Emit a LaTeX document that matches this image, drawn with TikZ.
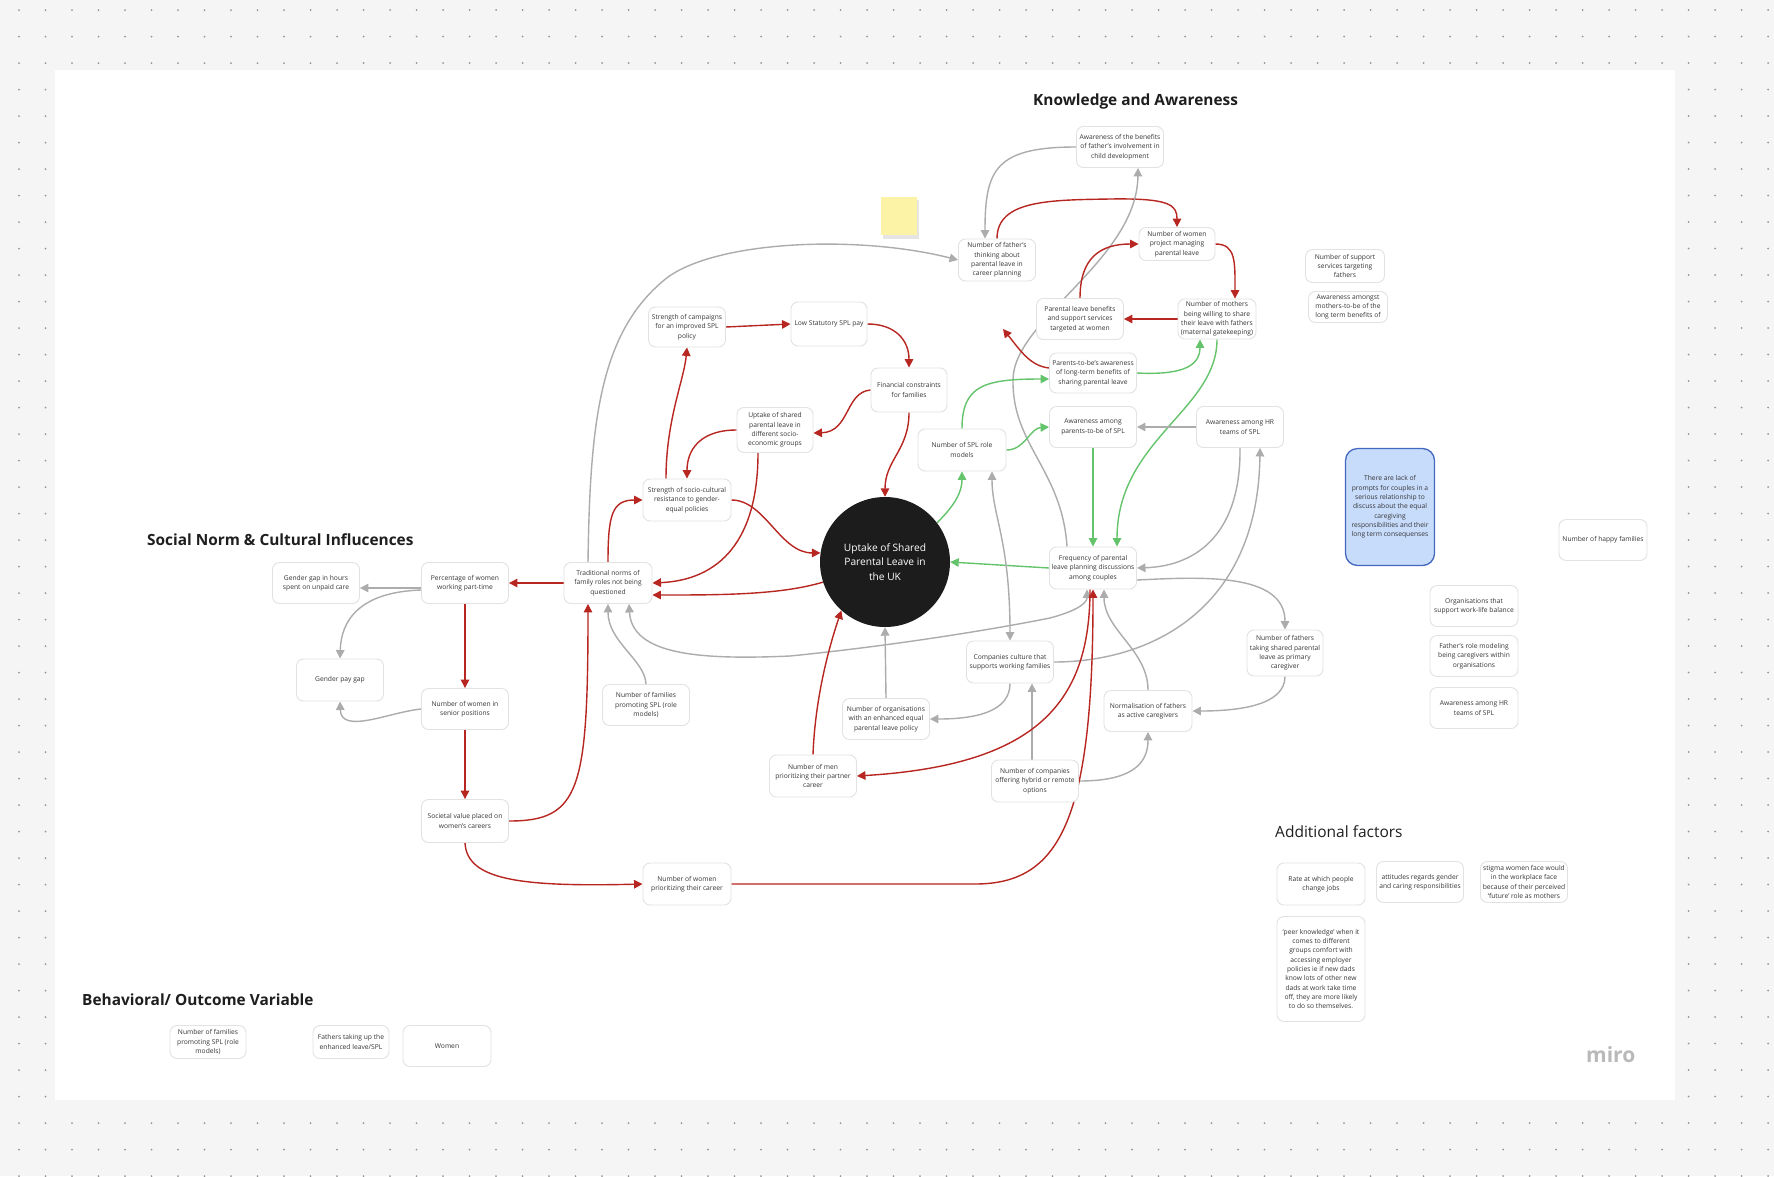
\documentclass[tikz,border=0pt]{standalone}
\usepackage{fontspec}
\setmainfont{Open Sans}
\usetikzlibrary{arrows.meta,calc}
\pgfdeclarelayer{bglayer}
\pgfdeclarelayer{edgelayer}
\pgfsetlayers{bglayer,edgelayer,main}
\definecolor{redc}{RGB}{183,38,32}
\definecolor{grayc}{RGB}{172,172,172}
\definecolor{greenc}{RGB}{100,196,108}
\definecolor{boxc}{RGB}{226,226,226}
\definecolor{textc}{RGB}{55,55,55}
\definecolor{circc}{RGB}{28,28,28}
\definecolor{bgc}{RGB}{245,245,245}
\definecolor{dotc}{RGB}{150,150,150}
\definecolor{bluefill}{RGB}{199,219,251}
\definecolor{blueline}{RGB}{68,104,192}
\definecolor{stickyc}{RGB}{253,243,167}
\definecolor{headc}{RGB}{30,30,30}
\definecolor{miroc}{RGB}{185,185,185}
\begin{document}
\begin{tikzpicture}[x=1pt,y=-1pt,
  >={Triangle[length=8.5pt,width=8.5pt]},
  box/.style={draw=boxc, line width=0.9pt, rounded corners=7pt, fill=white, align=center,
    inner sep=0pt, text=textc, font=\fontsize{6.7}{9.3}\selectfont,
    minimum width=87pt, minimum height=41pt},
  head/.style={font=\fontsize{15.4}{18}\selectfont\bfseries, text=headc, inner sep=0pt, anchor=base west},
  rl/.style={draw=redc, line width=1.4pt, ->},
  gl/.style={draw=grayc, line width=1.4pt, ->},
  nl/.style={draw=greenc, line width=1.4pt, ->}]
\useasboundingbox (0,0) rectangle (1774,1176);
\begin{pgfonlayer}{bglayer}
\fill[bgc] (0,0) rectangle (1774,1176);
\foreach \i in {0,...,66} {\foreach \j in {0,...,44} {\fill[dotc] ({19+26.5*\i},{10+26.5*\j}) circle[radius=1pt];}}
\fill[white] (55,70) rectangle (1675,1100);
\fill[black!10] (883,200) rectangle (919,239);
\end{pgfonlayer}

% headings
\node[head] (hK) at (1033,105) {Knowledge and Awareness};
\node[head] (hS) at (147,545) {Social Norm \& Cultural Influcences};
\node[head] (hB) at (82,1005) {Behavioral/ Outcome Variable};
\node[font=\fontsize{15.5}{18}\selectfont, text=headc, inner sep=0pt, anchor=base west] (hA) at (1275,837) {Additional factors};
\node[font=\fontsize{21}{24}\selectfont\bfseries, text=miroc, inner sep=0pt, anchor=base west] (miro) at (1586,1062) {miro};

% sticky note
\node[fill=stickyc, minimum width=36pt, minimum height=38pt, inner sep=0pt] (note) at (899,216) {};

% knowledge nodes
\node[box] (AwBen) at (1120,147) {Awareness of the benefits\\of father's involvement in\\child development};
\node[box, minimum width=77pt, minimum height=42pt] (FathThink) at (997,260) {Number of father's\\thinking about\\parental leave in\\career planning};
\node[box, minimum width=76pt, minimum height=33pt] (WomenPM) at (1177,244) {Number of women\\project managing\\parental leave};
\node[box, minimum width=78pt, minimum height=40pt] (MothWill) at (1217,319) {Number of mothers\\being willing to share\\their leave with fathers\\(maternal gatekeeping)};
\node[box] (PLBen) at (1080,319) {Parental leave benefits\\and support services\\targeted at women};
\node[box, minimum height=40pt] (PtbAw) at (1093,373) {Parents-to-be's awareness\\of long-term benefits of\\sharing parental leave};
\node[box, minimum width=79pt, minimum height=33pt] (SupFath) at (1345,266) {Number of support\\services targeting\\fathers};
\node[box, minimum width=79pt, minimum height=31pt] (AwMoth) at (1348,307) {Awareness amongst\\mothers-to-be of the\\long term benefits of};

% centre nodes
\node[box, minimum width=77pt, minimum height=40pt] (SCamp) at (687,327) {Strength of campaigns\\for an improved SPL\\policy};
\node[box, minimum width=76pt, minimum height=44pt] (LowPay) at (829,324) {Low Statutory SPL pay};
\node[box, minimum width=76pt, minimum height=44pt] (Fin) at (909,390) {Financial constraints\\for families};
\node[box, minimum width=76pt, minimum height=45pt] (UpSoc) at (775,430) {Uptake of shared\\parental leave in\\different socio-\\economic groups};
\node[box, minimum width=88pt, minimum height=42pt] (SPLRM) at (962,450) {Number of SPL role\\models};
\node[box, minimum width=88pt, minimum height=42pt] (SSC) at (687,500) {Strength of socio-cultural\\resistance to gender-\\equal policies};
\node[box] (AwPtb) at (1093,427) {Awareness among\\parents-to-be of SPL};
\node[box] (AwHR) at (1240,427) {Awareness among HR\\teams of SPL};
\node[box, minimum height=42pt] (Freq) at (1093,568) {Frequency of parental\\leave planning discussions\\among couples};
\node[circle, fill=circc, minimum size=130pt, inner sep=0pt, text=white, align=center,
  font=\fontsize{10.2}{14.5}\selectfont] (Circle) at (885,562) {Uptake of Shared\\Parental Leave in\\the UK};
\node[box, minimum width=88pt] (Trad) at (608,583) {Traditional norms of\\family roles not being\\questioned};
\node[box] (NumFam) at (646,705) {Number of families\\promoting SPL (role\\models)};
\node[box] (NumOrg) at (886,719) {Number of organisations\\with an enhanced equal\\parental leave policy};
\node[box, minimum height=42pt] (CompCult) at (1010,662) {Companies culture that\\supports working families};

% social norm nodes
\node[box] (GGH) at (316,583) {Gender gap in hours\\spent on unpaid care};
\node[box] (PctPT) at (465,583) {Percentage of women\\working part-time};
\node[box, minimum height=42pt] (GPG) at (340,680) {Gender pay gap};
\node[box] (NWS) at (465,709) {Number of women in\\senior positions};
\node[box, minimum height=43pt] (Soc) at (465,821) {Societal value placed on\\women's careers};
\node[box, minimum width=88pt, minimum height=42pt] (WomPrior) at (687,884) {Number of women\\prioritizing their career};
\node[box, minimum height=42pt] (MenPrior) at (813,776) {Number of men\\prioritizing their partner\\career};
\node[box, minimum height=42pt] (Hybrid) at (1035,781) {Number of companies\\offering hybrid or remote\\options};
\node[box, minimum width=88pt] (Norm) at (1148,711) {Normalisation of fathers\\as active caregivers};
\node[box, minimum width=76pt, minimum height=46pt] (FathPC) at (1285,653) {Number of fathers\\taking shared parental\\leave as primary\\caregiver};

% right column
\node[box, draw=blueline, fill=bluefill, line width=1.3pt, rounded corners=12pt,
  minimum width=89pt, minimum height=117pt] (Blue) at (1390,507) {There are lack of\\prompts for couples in a\\serious relationship to\\discuss about the equal\\caregiving\\responsibilities and their\\long term consequenses};
\node[box, minimum width=88pt] (Happy) at (1603,540) {Number of happy families};
\node[box, minimum width=88pt] (OrgWLB) at (1474,606) {Organisations that\\support work-life balance};
\node[box, minimum width=88pt] (FathRole) at (1474,656) {Father's role modeling\\being caregivers within\\organisations};
\node[box, minimum width=88pt] (AwHRb) at (1474,708) {Awareness among HR\\teams of SPL};

% additional factors
\node[box, minimum width=88pt, minimum height=42pt] (Rate) at (1321,884) {Rate at which people\\change jobs};
\node[box] (Att) at (1420,882) {attitudes regards gender\\and caring responsibilities};
\node[box] (Stigma) at (1524,882) {stigma women face would\\in the workplace face\\because of their perceived\\‘future’ role as mothers};
\node[box, minimum width=88pt, minimum height=105pt] (Peer) at (1321,969) {‘peer knowledge’ when it\\comes to different\\groups comfort with\\accessing employer\\policies ie if new dads\\know lots of other new\\dads at work take time\\off, they are more likely\\to do so themselves.};

% behavioural
\node[box, minimum width=76pt, minimum height=33pt] (B1) at (208,1042) {Number of families\\promoting SPL (role\\models)};
\node[box, minimum width=76pt, minimum height=33pt] (B2) at (351,1042) {Fathers taking up the\\enhanced leave/SPL};
\node[box, minimum width=88pt] (B3) at (447,1046) {Women};

\begin{pgfonlayer}{edgelayer}
\coordinate (dang) at (1003,329);
\draw[gl] (AwBen.west) .. controls (995,147) and (985,170) .. ($(FathThink.north)+(-12,0)$);
\draw[rl] (FathThink.north) .. controls (997,200) and (1050,200) .. (1110,199) .. controls (1170,198) and (1177,205) .. (WomenPM.north);
\draw[gl] ($(Freq.north)+(-26,0)$) .. controls (1062,470) and (1012,445) .. (1013,380) .. controls (1013,320) and (1137,260) .. ($(AwBen.south)+(18,0)$);
\draw[rl] (WomenPM.east) .. controls (1236,244) and (1235,262) .. ($(MothWill.north)+(18,0)$);
\draw[rl] (MothWill.west) -- (PLBen.east);
\draw[rl] (PLBen.north) .. controls (1080,258) and (1100,244) .. (WomenPM.west);
\draw[rl] ($(PtbAw.west)+(0,-5)$) .. controls (1030,366) and (1020,350) .. (dang);
\draw[nl] (PtbAw.east) .. controls (1178,375) and (1200,368) .. ($(MothWill.south)+(-17,0)$);
\draw[nl] (MothWill.south) .. controls (1217,410) and (1117,440) .. ($(Freq.north)+(24,0)$);
\draw[nl] (AwPtb.south) -- (Freq.north);
\draw[nl] (SPLRM.north) .. controls (962,385) and (985,379) .. ($(PtbAw.west)+(0,6)$);
\draw[nl] (SPLRM.east) .. controls (1025,450) and (1030,428) .. (AwPtb.west);
\draw[nl] (Circle.37) .. controls (955,505) and (962,492) .. (SPLRM.south);
\draw[nl] (Freq.west) -- (Circle.east);
\draw[gl] (AwHR.west) -- (AwPtb.east);
\draw[gl] (AwHR.south) .. controls (1241,530) and (1200,566) .. (Freq.east);
\draw[gl] (CompCult.east) .. controls (1150,662) and (1258,610) .. ($(AwHR.south)+(20,0)$);
\draw[gl] ($(Freq.east)+(0,12)$) .. controls (1200,577) and (1285,572) .. (FathPC.north);
\draw[gl] (FathPC.south) .. controls (1285,705) and (1240,711) .. (Norm.east);
\draw[gl] (Norm.north) .. controls (1148,650) and (1104,630) .. ($(Freq.south)+(11,0)$);
\draw[gl] (Hybrid.east) .. controls (1130,781) and (1148,765) .. (Norm.south);
\draw[gl] ($(Hybrid.north)+(-3,0)$) -- ($(CompCult.south)+(22,0)$);
\draw[gl] (CompCult.south) .. controls (1010,712) and (975,719) .. (NumOrg.east);
\draw[gl] (NumOrg.north) -- (Circle.south);
\draw[gl,<->] (CompCult.north) .. controls (1010,540) and (992,515) .. ($(SPLRM.south)+(30,0)$);
\draw[gl,<->] ($(Trad.south)+(21,0)$) .. controls (632,655) and (700,660) .. (790,656) .. controls (900,645) and (1000,628) .. (1050,618) .. controls (1080,610) and (1087,602) .. ($(Freq.south)+(-6,0)$);
\draw[gl] (NumFam.north) .. controls (645,660) and (608,642) .. (Trad.south);
\draw[gl] ($(Trad.north)+(-20,0)$) .. controls (590,420) and (600,330) .. (668,277) .. controls (720,240) and (860,235) .. (FathThink.west);
\draw[rl] (Trad.north) .. controls (608,515) and (612,500) .. (SSC.west);
\draw[rl] (SSC.east) .. controls (765,500) and (780,553) .. (Circle.172);
\draw[rl] ($(SSC.north)+(-21,0)$) .. controls (666,420) and (684,380) .. (SCamp.south);
\draw[rl] (SCamp.east) -- (LowPay.west);
\draw[rl] (LowPay.east) .. controls (895,324) and (909,340) .. (Fin.north);
\draw[rl] (Fin.west) .. controls (845,392) and (850,432) .. ($(UpSoc.east)+(0,3)$);
\draw[rl] (UpSoc.west) .. controls (700,430) and (687,450) .. (SSC.north);
\draw[rl] (Fin.south) .. controls (909,450) and (885,460) .. (Circle.north);
\draw[rl] ($(UpSoc.south)+(-17,0)$) .. controls (758,540) and (720,580) .. (Trad.east);
\draw[rl] (Circle.198) .. controls (780,595) and (720,595) .. ($(Trad.east)+(0,12)$);
\draw[rl] (Trad.west) -- (PctPT.east);
\draw[gl] ($(PctPT.west)+(0,5)$) -- ($(GGH.east)+(0,5)$);
\draw[gl] ($(PctPT.west)+(0,7)$) .. controls (360,592) and (341,620) .. (GPG.north);
\draw[gl] (NWS.west) .. controls (390,712) and (341,735) .. (GPG.south);
\draw[rl] (PctPT.south) -- (NWS.north);
\draw[rl] (NWS.south) -- (Soc.north);
\draw[rl] (Soc.east) .. controls (580,821) and (588,790) .. ($(Trad.south)+(-20,0)$);
\draw[rl] (Soc.south) .. controls (467,880) and (520,887) .. (WomPrior.west);
\draw[rl] (WomPrior.east) -- (975,884) .. controls (1060,884) and (1093,820) .. (Freq.south);
\draw[rl] ($(Freq.south)+(-3,0)$) .. controls (1090,700) and (1040,765) .. (MenPrior.east);
\draw[rl] (MenPrior.north) .. controls (815,700) and (828,650) .. (Circle.228);
\end{pgfonlayer}
\end{tikzpicture}
\end{document}
